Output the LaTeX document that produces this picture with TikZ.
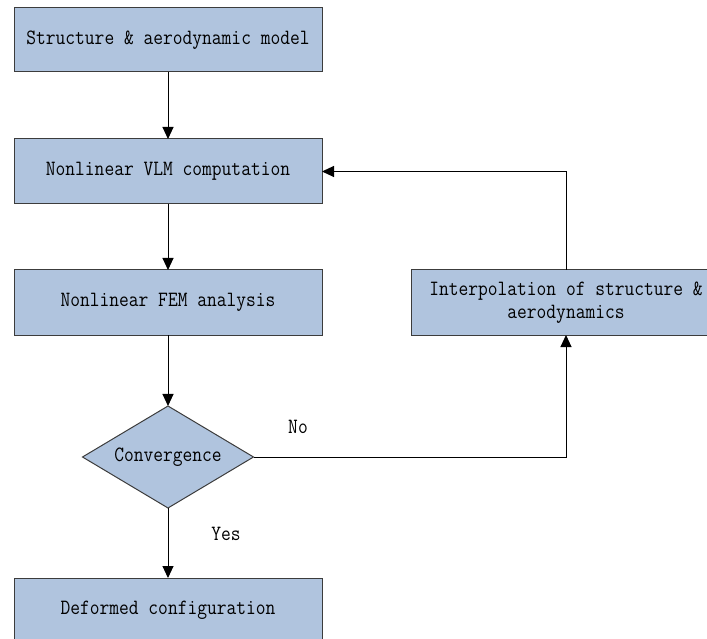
\documentclass[tikz,border=0pt]{standalone}
\usepackage{fontspec}
\newfontfamily\flowfont[FakeStretch=0.87]{Latin Modern Mono}
\usetikzlibrary{shapes.geometric}
\usetikzlibrary{arrows.meta}
\definecolor{boxfill}{RGB}{176,196,222}
\definecolor{boxline}{RGB}{60,60,60}
\tikzset{
  box/.style={rectangle,draw=boxline,fill=boxfill,line width=1pt,minimum width=308pt,minimum height=65pt,inner sep=0pt,outer sep=0pt,align=center,font=\flowfont\fontsize{21.8}{23}\selectfont},
  decision/.style={diamond,draw=boxline,fill=boxfill,line width=1pt,aspect=1.676,minimum width=171pt,minimum height=102pt,inner sep=0pt,outer sep=0pt,font=\flowfont\fontsize{21.8}{23}\selectfont},
  flow/.style={draw=black,line width=1pt,-{Triangle[length=12pt,width=11pt]}},
  tag/.style={font=\flowfont\fontsize{21.8}{23}\selectfont}
}
\begin{document}
\begin{tikzpicture}[x=1pt,y=-1pt]
\clip (0,0) rectangle (707,639);
\node[box,minimum height=64pt] (model) at (168,40) {Structure \& aerodynamic model};
\node[box] (vlm) at (168,171.5) {Nonlinear VLM computation};
\node[box] (fem) at (168,302.5) {Nonlinear FEM analysis};
\node[decision] (conv) at (168,457) {Convergence};
\node[box] (deform) at (168,610.5) {Deformed configuration};
\node[box,minimum width=310pt] (interp) at (566,302.5) {Interpolation of structure \&\\aerodynamics};

\draw[flow] (model) -- (vlm);
\draw[flow] (vlm) -- (fem);
\draw[flow] (fem) -- (conv);
\draw[flow] (conv) -- (deform);
\draw[flow] (conv.east) -| (interp.south);
\draw[flow] (interp.north) |- (vlm.east);

\node[tag] (no) at (298,427) {No};
\node[tag] (yes) at (226,534) {Yes};
\end{tikzpicture}
\end{document}
